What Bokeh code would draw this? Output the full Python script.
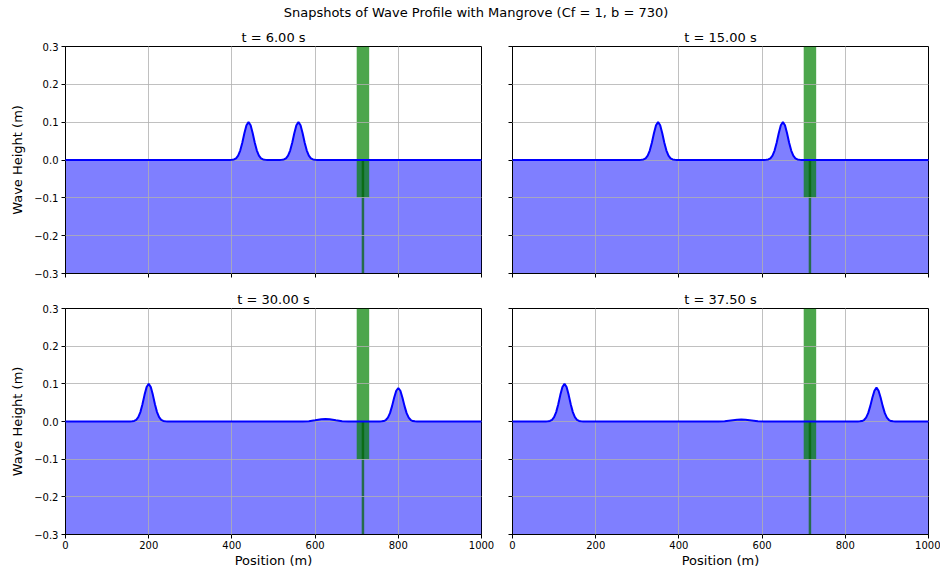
from bokeh.plotting import figure
from bokeh.layouts import column, row
from bokeh.models import Div, Range1d, FixedTicker, CustomLabelingPolicy
from bokeh.embed import file_html
from bokeh.resources import INLINE

# ---------------- data ----------------
suptitle = "Snapshots of Wave Profile with Mangrove (Cf = 1, b = 730)"
panel_titles = ["t = 6.00 s", "t = 15.00 s", "t = 30.00 s", "t = 37.50 s"]

x_ticks = [0, 200, 400, 600, 800, 1000]
y_ticks = [-0.3, -0.2, -0.1, 0.0, 0.1, 0.2, 0.3]
y_tick_labels = ["\u22120.3", "\u22120.2", "\u22120.1", "0.0", "0.1", "0.2", "0.3"]

# wave profiles (position m, height m)
t6_x = [0, 395, 400, 405, 410, 415, 420, 425, 430, 435, 440, 445, 450, 455, 460, 465, 470, 475, 480, 485,
        515, 520, 525, 530, 535, 540, 545, 550, 555, 560, 565, 570, 575, 580, 585, 590, 595, 600, 605, 1000]
t6_y = [0, 0.0001, 0.0004, 0.0014, 0.0044, 0.0114, 0.0249, 0.0458, 0.0707, 0.0917, 0.1,
        0.0917, 0.0707, 0.0458, 0.0249, 0.0114, 0.0044, 0.0014, 0.0004, 0.0001,
        0.0001, 0.0004, 0.0014, 0.0044, 0.0114, 0.0249, 0.0458, 0.0707, 0.0917, 0.1,
        0.0917, 0.0707, 0.0458, 0.0249, 0.0114, 0.0044, 0.0014, 0.0004, 0.0001, 0]

t15_x = [0, 305, 310, 315, 320, 325, 330, 335, 340, 345, 350, 355, 360, 365, 370, 375, 380, 385, 390, 395,
         605, 610, 615, 620, 625, 630, 635, 640, 645, 650, 655, 660, 665, 670, 675, 680, 685, 690, 695, 1000]
t15_y = [0, 0.0001, 0.0004, 0.0014, 0.0044, 0.0114, 0.0249, 0.0458, 0.0707, 0.0917, 0.1,
         0.0917, 0.0707, 0.0458, 0.0249, 0.0114, 0.0044, 0.0014, 0.0004, 0.0001,
         0.0001, 0.0004, 0.0014, 0.0044, 0.0114, 0.0249, 0.0458, 0.0707, 0.0917, 0.1,
         0.0917, 0.0707, 0.0458, 0.0249, 0.0114, 0.0044, 0.0014, 0.0004, 0.0001, 0]

t30_x = [0, 155, 160, 165, 170, 175, 180, 185, 190, 195, 200, 205, 210, 215, 220, 225, 230, 235, 240, 245,
         570, 585, 600, 615, 625, 635, 650, 665, 680,
         755, 760, 765, 770, 775, 780, 785, 790, 795, 800, 805, 810, 815, 820, 825, 830, 835, 840, 845, 1000]
t30_y = [0, 0.0001, 0.0004, 0.0014, 0.0044, 0.0114, 0.0249, 0.0458, 0.0707, 0.0917, 0.1,
         0.0917, 0.0707, 0.0458, 0.0249, 0.0114, 0.0044, 0.0014, 0.0004, 0.0001,
         0.0, 0.0009, 0.0032, 0.0058, 0.0065, 0.0058, 0.0032, 0.0009, 0.0,
         0.0001, 0.0004, 0.0012, 0.0039, 0.0101, 0.0222, 0.0408, 0.0629, 0.0816, 0.089,
         0.0816, 0.0629, 0.0408, 0.0222, 0.0101, 0.0039, 0.0012, 0.0004, 0.0001, 0]

t37_x = [0, 80, 85, 90, 95, 100, 105, 110, 115, 120, 125, 130, 135, 140, 145, 150, 155, 160, 165, 170,
         495, 510, 525, 540, 550, 560, 575, 590, 605,
         830, 835, 840, 845, 850, 855, 860, 865, 870, 875, 880, 885, 890, 895, 900, 905, 910, 915, 920, 1000]
t37_y = [0, 0.0001, 0.0004, 0.0014, 0.0044, 0.0114, 0.0249, 0.0458, 0.0707, 0.0917, 0.1,
         0.0917, 0.0707, 0.0458, 0.0249, 0.0114, 0.0044, 0.0014, 0.0004, 0.0001,
         0.0, 0.0008, 0.0028, 0.0048, 0.0054, 0.0048, 0.0028, 0.0008, 0.0,
         0.0001, 0.0004, 0.0012, 0.0039, 0.0101, 0.0222, 0.0408, 0.0629, 0.0816, 0.09,
         0.0816, 0.0629, 0.0408, 0.0222, 0.0101, 0.0039, 0.0012, 0.0004, 0.0001, 0]

profiles_x = [t6_x, t15_x, t30_x, t37_x]
profiles_y = [t6_y, t15_y, t30_y, t37_y]

# mangrove zone
mangrove_left = 700
mangrove_right = 730
mangrove_bottom = -0.1
mangrove_top = 0.3
mangrove_stem_x = 715
stem_bottom = -0.3
stem_top = 0.0

x_min, x_max = 0, 1000
y_min, y_max = -0.3, 0.3

FONT = "DejaVu Sans"


def hide_labels(ax, ticks):
    # zero-width labels so no space is reserved, and none are drawn
    ax.major_label_overrides = {t: "" for t in ticks}
    ax.major_label_policy = CustomLabelingPolicy(code="return new Set()")


def make_panel(i, left, bottom):
    w_left = 65 if left else 16
    w_right = 15 if left else 12
    b_top = 20
    b_bottom = 14 if i < 2 else 36
    frame_h = 228 if i < 2 else 227
    p = figure(width=w_left + 416 + w_right, height=b_top + frame_h + b_bottom,
               x_range=Range1d(x_min, x_max), y_range=Range1d(y_min, y_max),
               output_backend="svg", toolbar_location=None,
               min_border_left=w_left, min_border_right=w_right,
               min_border_top=b_top, min_border_bottom=b_bottom,
               title=panel_titles[i])
    p.title.align = "center"
    p.title.text_font = FONT
    p.title.text_font_size = "13px"
    p.title.text_font_style = "normal"
    p.title.text_color = "black"
    p.title.standoff = 4

    xs = profiles_x[i]
    ys = profiles_y[i]
    p.varea(x=xs, y1=[y_min] * len(xs), y2=ys, fill_color="blue", fill_alpha=0.5)
    p.quad(left=[mangrove_left], right=[mangrove_right], bottom=[mangrove_bottom], top=[mangrove_top],
           fill_color="green", fill_alpha=0.7, line_color=None)
    p.segment(x0=[mangrove_stem_x], y0=[stem_bottom], x1=[mangrove_stem_x], y1=[stem_top],
              line_color="darkgreen", line_width=2.5, line_alpha=0.7)
    ln = p.line(xs, ys, line_color="blue", line_width=2)
    ln.level = "annotation"

    for g in p.grid:
        g.grid_line_color = "#b0b0b0"
        g.grid_line_width = 0.8
        g.level = "guide"
    p.xgrid.ticker = FixedTicker(ticks=x_ticks)
    p.ygrid.ticker = FixedTicker(ticks=y_ticks)

    p.outline_line_color = "black"
    p.outline_line_width = 1
    p.outline_line_alpha = 1

    for ax in (p.xaxis[0], p.yaxis[0]):
        ax.axis_line_color = "black"
        ax.major_tick_line_color = "black"
        ax.major_tick_out = 4
        ax.major_tick_in = 0
        ax.minor_tick_out = 0
        ax.minor_tick_in = 0
        ax.major_label_text_font = FONT
        ax.major_label_text_font_size = "10px"
        ax.major_label_text_color = "black"
        ax.major_label_standoff = 2
        ax.axis_label_text_font = FONT
        ax.axis_label_text_font_size = "13px"
        ax.axis_label_text_font_style = "normal"
        ax.axis_label_text_color = "black"
        ax.axis_label_standoff = 1

    p.xaxis[0].ticker = FixedTicker(ticks=x_ticks)
    p.yaxis[0].ticker = FixedTicker(ticks=y_ticks)

    if bottom:
        p.xaxis[0].axis_label = "Position (m)"
    else:
        hide_labels(p.xaxis[0], x_ticks)
    if left:
        p.yaxis[0].major_label_overrides = {v: s for v, s in zip(y_ticks, y_tick_labels)}
        p.yaxis[0].major_label_standoff = 3
        p.yaxis[0].axis_label = "Wave Height (m)"
        p.yaxis[0].axis_label_standoff = 6
    else:
        hide_labels(p.yaxis[0], y_ticks)
    return p


f1 = make_panel(0, True, False)
f2 = make_panel(1, False, False)
f3 = make_panel(2, True, True)
f4 = make_panel(3, False, True)

head = Div(text='<div style="width:952px;text-align:center;font-family:\'DejaVu Sans\';'
                'font-size:13px;line-height:26px;color:black;white-space:nowrap">' + suptitle + '</div>',
           width=940, height=25, margin=(0, 0, 0, 0))

layout = column(head, row(f1, f2, spacing=0), row(f3, f4, spacing=0), spacing=0)

open("out.html", "w").write(file_html(layout, INLINE))
